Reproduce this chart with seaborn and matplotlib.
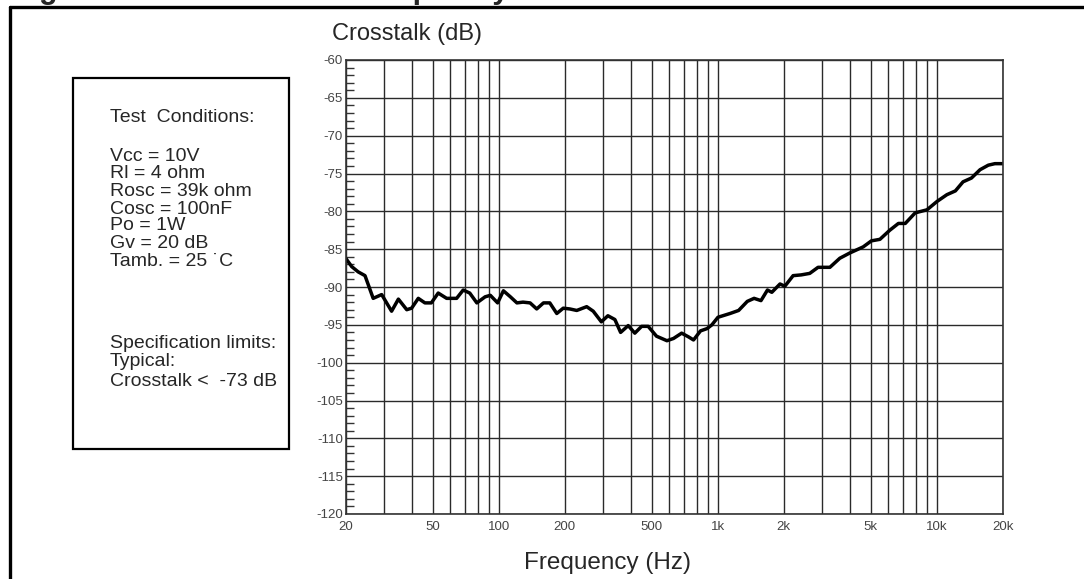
#%%
import numpy as np
import pandas as pd
import seaborn as sns
from matplotlib import pyplot as plt
from matplotlib.ticker import FixedLocator, NullFormatter
from matplotlib.lines import Line2D
from matplotlib.patches import Rectangle

#%%
# curve
freq_hz = [20, 21.3, 22.8, 24.5, 26.7, 29.2, 32.4, 34.8, 38, 40,
        42.9, 46, 49.2, 52.9, 57.8, 64.2, 68.8, 73.7, 79.4, 86.6,
        91.5, 98.8, 105, 113, 121, 129, 139, 149, 160, 171,
        184, 197, 211, 227, 252, 270, 294, 315, 339, 360,
        390, 418, 449, 481, 525, 586, 628, 684, 736, 775,
        834, 893, 940, 1002, 1138, 1245, 1364, 1465, 1575, 1686,
        1765, 1924, 2024, 2208, 2404, 2630, 2870, 3250, 3608, 4010,
        4612, 5030, 5500, 6100, 6680, 7180, 7970, 9020, 10020, 11120,
        12160, 13180, 14400, 15760, 17190, 18420, 20000]
crosstalk_db = [-86.2, -87.3, -88.0, -88.5, -91.5, -91.0, -93.2, -91.6, -93.0, -92.8,
        -91.5, -92.1, -92.1, -90.8, -91.5, -91.5, -90.4, -90.8, -92.1, -91.3,
        -91.1, -92.1, -90.5, -91.3, -92.1, -92.0, -92.1, -92.9, -92.1, -92.1,
        -93.5, -92.8, -92.9, -93.1, -92.6, -93.2, -94.6, -93.8, -94.3, -96.0,
        -95.1, -96.1, -95.2, -95.2, -96.5, -97.1, -96.8, -96.1, -96.6, -97.0,
        -95.8, -95.5, -95.0, -94.0, -93.5, -93.1, -91.9, -91.5, -91.8, -90.4,
        -90.7, -89.6, -89.9, -88.5, -88.4, -88.2, -87.4, -87.4, -86.2, -85.5,
        -84.7, -83.9, -83.7, -82.5, -81.6, -81.6, -80.2, -79.8, -78.7, -77.8,
        -77.3, -76.1, -75.6, -74.5, -73.9, -73.7, -73.7]

x_tick_vals = [20, 50, 100, 200, 500, 1000, 2000, 5000, 10000, 20000]
x_tick_text = ['20', '50', '100', '200', '500', '1k', '2k', '5k', '10k', '20k']
x_grid_vals = [20, 30, 40, 50, 60, 70, 80, 90,
        100, 200, 300, 400, 500, 600, 700, 800, 900,
        1000, 2000, 3000, 4000, 5000, 6000, 7000, 8000, 9000,
        10000, 20000]
y_tick_vals = [-120, -115, -110, -105, -100, -95, -90, -85, -80, -75, -70, -65, -60]

cond_lines = ['Test  Conditions:', 'Vcc = 10V', 'Rl = 4 ohm', 'Rosc = 39k ohm',
        'Cosc = 100nF', 'Po = 1W', 'Gv = 20 dB', 'Tamb. = 25 \u02d9C',
        'Specification limits:', 'Typical:', 'Crosstalk <  -73 dB']
cond_y_px = [117, 157, 174, 191, 209, 226, 244, 262, 343, 362, 382]

df = pd.DataFrame({'freq': freq_hz, 'xtalk': crosstalk_db})

#%%
sns.set_style('white')
plt.rcParams['font.family'] = ['Liberation Sans', 'DejaVu Sans']

W, H = 1084, 579
fig = plt.figure(figsize=(W / 100, H / 100), dpi=100)
ax = fig.add_axes([345.7 / W, 1 - 514 / H, 657 / W, 454 / H])

sns.lineplot(data=df, x='freq', y='xtalk', ax=ax, color='black',
        lw=2.5, estimator=None, sort=False)

ax.set_xscale('log')
ax.set_xlim(20, 20000)
ax.set_ylim(-120, -60)

ax.set_xticks(x_tick_vals)
ax.set_xticklabels(x_tick_text)
ax.xaxis.set_minor_locator(FixedLocator(x_grid_vals))
ax.xaxis.set_minor_formatter(NullFormatter())
ax.set_yticks(y_tick_vals)
ax.set_yticklabels([str(v) for v in y_tick_vals])
ax.yaxis.set_minor_locator(FixedLocator(np.arange(-120, -59, 1)))

ax.tick_params(axis='both', which='major', length=0, labelsize=9.5,
        labelcolor='#444444')
ax.tick_params(axis='x', which='major', pad=5)
ax.tick_params(axis='y', which='major', pad=2)
ax.tick_params(axis='x', which='minor', length=0)
ax.tick_params(axis='y', which='minor', direction='in', length=6,
        width=1, color='#333333', left=True)

ax.grid(True, axis='x', which='both', color='#2a2a2a', lw=1.0)
ax.grid(True, axis='y', which='major', color='#2a2a2a', lw=1.0)
for sp in ax.spines.values():
    sp.set_color('#333333')
    sp.set_linewidth(1.2)
ax.set_xlabel('')
ax.set_ylabel('')

fig.text(407 / W, 1 - 34 / H, 'Crosstalk (dB)', fontsize=17,
        ha='center', va='center')
fig.text(608 / W, 1 - 563 / H, 'Frequency (Hz)', fontsize=17.5,
        ha='center', va='center')

# conditions box
fig.add_artist(Rectangle((73 / W, 1 - 449 / H), 216 / W, 371 / H,
        transform=fig.transFigure, fill=False, ec='black', lw=1.6))
for txt, yp in zip(cond_lines, cond_y_px):
    fig.text(110 / W, 1 - yp / H, txt, fontsize=14, ha='left', va='center')

# outer frame and cut off caption
fig.add_artist(Line2D([10 / W, 1], [1 - 7.3 / H, 1 - 7.3 / H],
        transform=fig.transFigure, color='black', lw=2.4))
fig.add_artist(Line2D([10 / W, 10 / W], [0, 1 - 7.3 / H],
        transform=fig.transFigure, color='black', lw=2.4))
fig.text(12 / W, 1 + 2 / H, 'Figure 24. Crosstalk vs. frequency',
        fontsize=22, fontweight='bold', ha='left', va='baseline')

fig.savefig('out.png', dpi=100)
